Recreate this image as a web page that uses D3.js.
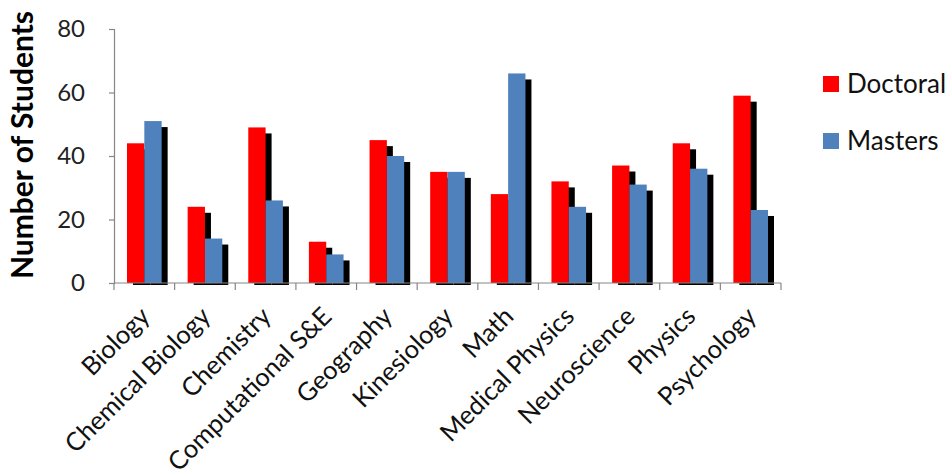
<!DOCTYPE html>
<html><head><meta charset="utf-8">
<script src="https://cdn.jsdelivr.net/npm/d3@7"></script>
<style>
html,body{margin:0;padding:0;background:#fff;}
svg{display:block;font-family:Lato,"Open Sans",sans-serif;}
</style></head>
<body><svg id="chart" width="950" height="476"></svg>
<script>
const categories = ["Biology","Chemical Biology","Chemistry","Computational S&E","Geography","Kinesiology","Math","Medical Physics","Neuroscience","Physics","Psychology"];
const doctoral = [44,24,49,13,45,35,28,32,37,44,59];
const masters = [51,14,26,9,40,35,66,24,31,36,23];
const seriesNames = ["Doctoral","Masters"];
const seriesColors = ["#FF0000","#4F81BD"];
const yTicks = [0,20,40,60,80];

const svg = d3.select("#chart");
const mLeft = 114, mRight = 781, mTop = 29, mBottom = 283;
const axisColor = "#868686";

const y = d3.scaleLinear().domain([0,80]).range([mBottom, mTop]);
const x0 = d3.scaleBand().domain(categories).range([mLeft, mRight]).paddingInner(0).paddingOuter(0);
const x1 = d3.scaleBand().domain(seriesNames).range([13, x0.bandwidth()-13]);

const data = categories.map((c,i)=>({cat:c, vals:[doctoral[i], masters[i]]}));

svg.append("defs").append("clipPath").attr("id","clip")
  .append("rect").attr("x",-200).attr("y",0).attr("width",1200).attr("height",mBottom+2);

const groups = svg.append("g").selectAll("g").data(data).join("g")
  .attr("transform", d=>`translate(${x0(d.cat)},0)`);

// shadows
groups.append("g").attr("clip-path","url(#clip)").selectAll("rect")
  .data(d=>d.vals.map((v,j)=>({s:seriesNames[j], v})))
  .join("rect")
  .attr("x", d=>x1(d.s)+6).attr("y", d=>y(d.v)+6)
  .attr("width", x1.bandwidth()).attr("height", d=>mBottom-y(d.v))
  .attr("fill","#000");

// bars
groups.append("g").selectAll("rect")
  .data(d=>d.vals.map((v,j)=>({s:seriesNames[j], v, c:seriesColors[j]})))
  .join("rect")
  .attr("x", d=>x1(d.s)).attr("y", d=>y(d.v))
  .attr("width", x1.bandwidth()).attr("height", d=>mBottom-y(d.v))
  .attr("fill", d=>d.c);

// y axis
const yAxis = svg.append("g").attr("transform",`translate(${mLeft},0)`)
  .call(d3.axisLeft(y).tickValues(yTicks).tickSize(5).tickPadding(24));
yAxis.select(".domain").attr("stroke",axisColor).attr("stroke-width",1.2);
yAxis.selectAll(".tick line").attr("stroke",axisColor).attr("stroke-width",1.2);
yAxis.selectAll(".tick text").attr("font-family","Lato").attr("font-size",24).attr("fill","#222");

// x axis
const xAxisG = svg.append("g").attr("transform",`translate(0,${mBottom})`);
xAxisG.append("line").attr("x1",mLeft).attr("x2",mRight).attr("stroke",axisColor).attr("stroke-width",1.2);
const bounds = categories.map(c=>x0(c)).concat([mRight]);
xAxisG.selectAll("line.t").data(bounds).join("line").attr("class","t")
  .attr("x1",d=>d).attr("x2",d=>d).attr("y1",0).attr("y2",7)
  .attr("stroke",axisColor).attr("stroke-width",1.2);

svg.append("g").selectAll("text").data(categories).join("text")
  .attr("transform", c=>`translate(${x0(c)+x0.bandwidth()/2+7},${318}) rotate(-45)`)
  .attr("text-anchor","end")
  .attr("font-size",25.5).attr("fill","#111")
  .text(c=>c);

// y title
svg.append("text").attr("transform","translate(33,145) rotate(-90)")
  .attr("text-anchor","middle").attr("font-weight","bold").attr("font-size",30).attr("fill","#000")
  .text("Number of Students");

// legend
const legend = svg.append("g").selectAll("g").data(seriesNames).join("g")
  .attr("transform",(d,i)=>`translate(823,${76+i*57})`);
legend.append("rect").attr("width",16).attr("height",16).attr("fill",(d,i)=>seriesColors[i]);
legend.append("text").attr("x",24).attr("y",8).attr("dy","0.35em").attr("font-size",26).attr("fill","#111").text(d=>d);
</script></body></html>
